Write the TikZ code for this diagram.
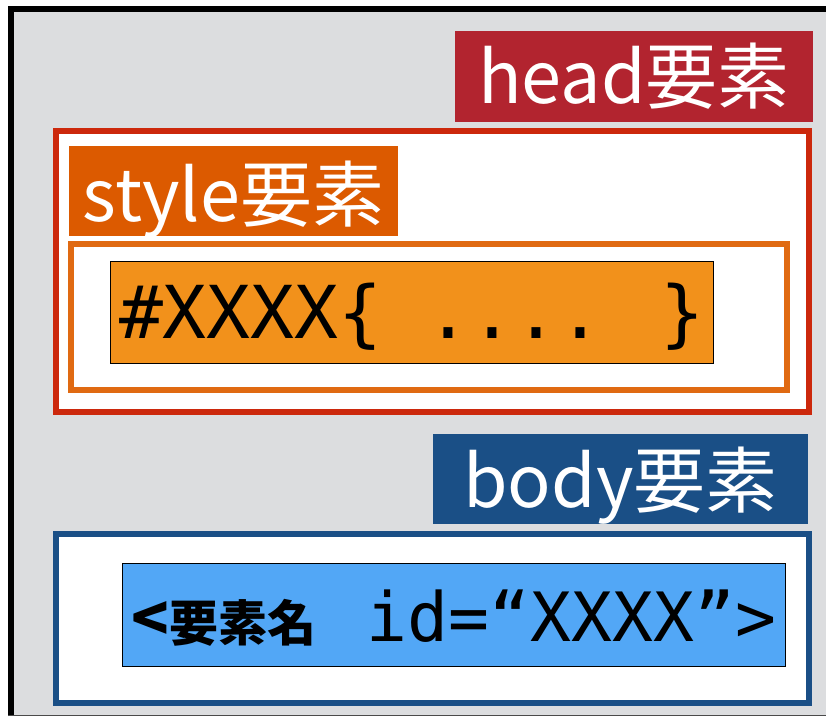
\documentclass[tikz,border=0pt]{standalone}
\usepackage{fontspec}
\setmainfont{Noto Sans CJK JP}
\newfontfamily\monof{DejaVu Sans Mono}
\definecolor{bggray}{HTML}{DCDDDF}
\definecolor{headred}{HTML}{B2242F}
\definecolor{framered}{HTML}{CC280C}
\definecolor{styleorange}{HTML}{DC5A00}
\definecolor{frameorange}{HTML}{E06A12}
\definecolor{codeorange}{HTML}{F2911B}
\definecolor{bodyblue}{HTML}{1A4F86}
\definecolor{codeblue}{HTML}{52A7F6}
\definecolor{edgegray}{HTML}{4A4A4A}
\begin{document}
\begin{tikzpicture}[x=1pt,y=-1pt,
  lab/.style={fill=#1, text=white, inner sep=0pt, font=\fontsize{72}{80}\selectfont, text depth=0pt},
  frame/.style={draw=#1, line width=6pt, fill=white, inner sep=0pt},
  code/.style={draw=black, line width=1.3pt, fill=#1, inner sep=0pt, text depth=0pt}]
\useasboundingbox (0,0) rectangle (826,717);
% outer page area
\fill[bggray] (11,9) rectangle (826,715.5);
\coordinate (obl) at (11,716);
\coordinate (otl) at (11,9);
\coordinate (otr) at (826,9);
\coordinate (bl) at (8,715.5);
\coordinate (br) at (826,715.5);
\draw[line width=6pt] (obl) -- (otl) -- (otr);
\draw[edgegray, line width=1.5pt] (bl) -- (br);
% head
\node[frame=framered, minimum width=753pt, minimum height=281pt] (headbox) at (432.5,271.5) {};
\node[lab=headred, minimum width=358pt, minimum height=91pt, text height=53pt] (headlab) at (634,76.5) {head要素};
% style
\node[frame=frameorange, minimum width=716pt, minimum height=146pt] (stylebox) at (429,317) {};
\node[lab=styleorange, minimum width=329pt, minimum height=90pt, text height=60pt] (stylelab) at (233.5,191) {style要素};
\node[code=codeorange, minimum width=603pt, minimum height=102pt, text height=51pt, font=\monof\fontsize{73}{80}\selectfont] (rule) at (412,312.5) {\#XXXX\{ .... \}};
% body
\node[frame=bodyblue, minimum width=753pt, minimum height=169pt] (bodybox) at (432.5,618.5) {};
\node[lab=bodyblue, minimum width=375pt, minimum height=90pt, text height=56pt] (bodylab) at (620.5,479) {body要素};
\node[code=codeblue, minimum width=663pt, minimum height=103pt, text height=52pt] (tag) at (454,615) {{\bfseries\fontsize{62}{64}\selectfont <}{\bfseries\fontsize{49}{50}\selectfont 要素名}\hspace{50pt}{\monof\fontsize{68}{70}\selectfont id=“XXXX”>}};
\end{tikzpicture}
\end{document}
